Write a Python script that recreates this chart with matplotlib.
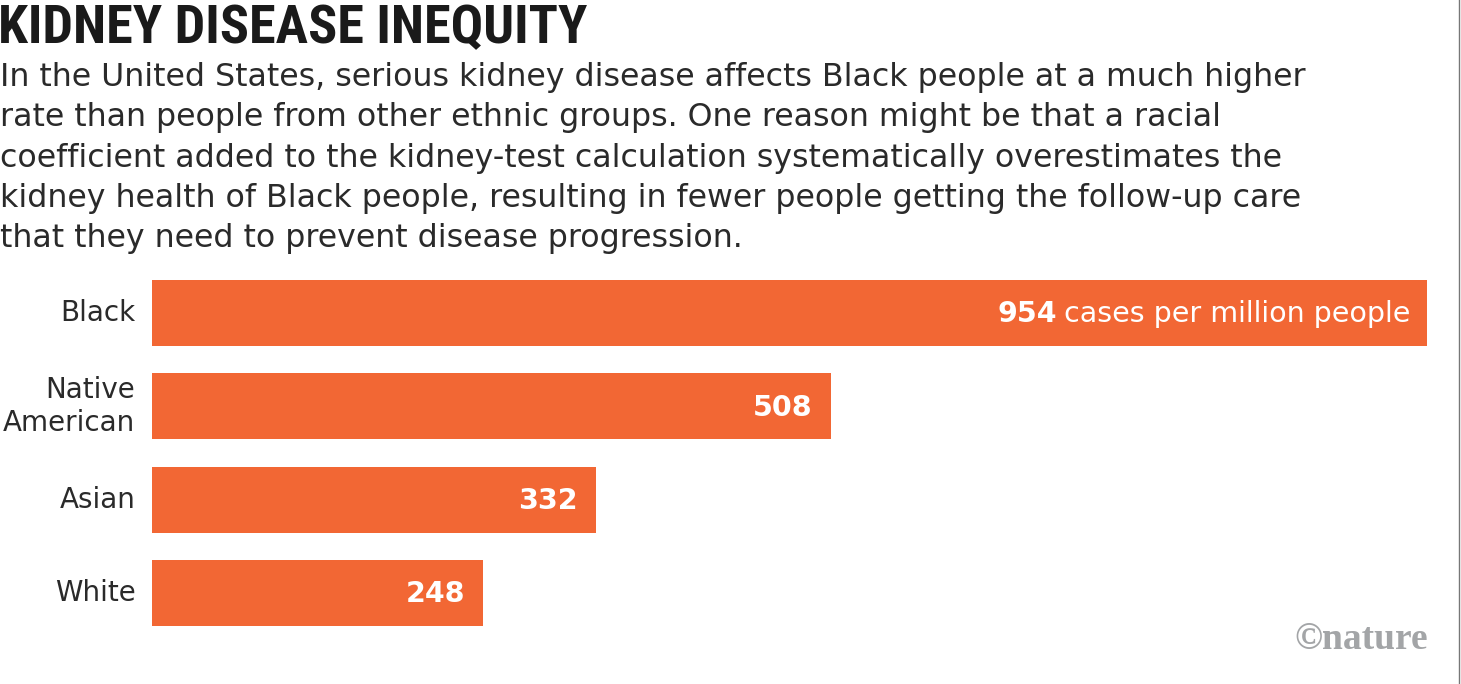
import matplotlib
matplotlib.use("Agg")
import matplotlib.pyplot as plt

groups = ["Black", "Native\nAmerican", "Asian", "White"]
cases = [954, 508, 332, 248]
unit_note = "cases per million people"

title = "KIDNEY DISEASE INEQUITY"
subtitle_lines = [
    "In the United States, serious kidney disease affects Black people at a much higher",
    "rate than people from other ethnic groups. One reason might be that a racial",
    "coefficient added to the kidney-test calculation systematically overestimates the",
    "kidney health of Black people, resulting in fewer people getting the follow-up care",
    "that they need to prevent disease progression.",
]
credit = "\u00a9nature"

W, H = 1461, 684
orange = "#f26734"
body = ["DejaVu Sans"]

fig = plt.figure(figsize=(W / 100, H / 100), dpi=100)
fig.patch.set_facecolor("white")


def px(x, y):
    return x / W, 1 - y / H


# bars: left edge at 152px, 954 ends at 1427px, rows from y=280 to 626
bar_h = 0.71
ax = fig.add_axes([152 / W, 1 - 626 / H, (1427 - 152) / W, (626 - 280) / H])
ypos = list(range(len(groups)))[::-1]
ax.barh(ypos, cases, height=bar_h, color=orange)
ax.set_xlim(0, max(cases))
ax.set_ylim(-bar_h / 2, len(groups) - 1 + bar_h / 2)
ax.axis("off")

fig.canvas.draw()
renderer = fig.canvas.get_renderer()

for y, name, v in zip(ypos, groups, cases):
    ax.annotate(name, xy=(0, y), xytext=(-12, 0), textcoords="offset points",
                ha="right", va="center", fontsize=20, color="#2a2a2a",
                family=body, linespacing=1.25)
    if v == max(cases):
        note = ax.annotate(unit_note, xy=(v, y), xytext=(-12, -1),
                           textcoords="offset points", ha="right", va="center",
                           fontsize=20.5, color="white", family=body)
        bb = note.get_window_extent(renderer)
        x0, _ = ax.transData.inverted().transform((bb.x0, 0))
        ax.annotate(str(v), xy=(x0, y), xytext=(-5, -1), textcoords="offset points",
                    ha="right", va="center", fontsize=20.5, color="white",
                    family=body, weight="bold")
    else:
        ax.annotate(str(v), xy=(v, y), xytext=(-13, -1), textcoords="offset points",
                    ha="right", va="center", fontsize=20.5, color="white",
                    family=body, weight="bold")

fig.text(*px(-2, 43), title, ha="left", va="baseline", fontsize=39,
         weight="heavy", color="#1a1a1a", fontstretch="condensed",
         family=["Roboto Condensed", "Open Sans Condensed",
                 "Liberation Sans Narrow", "Roboto"])

for i, line in enumerate(subtitle_lines):
    fig.text(*px(0, 86 + i * 40.3), line, ha="left", va="baseline",
             fontsize=22.8, color="#2a2a2a", family=body)

fig.text(*px(1428, 649), credit, ha="right", va="baseline", fontsize=27,
         weight="bold", color="#a3a5a7", family=["Liberation Serif", "DejaVu Serif"])

# thin frame edge at the right of the screenshot
fig.add_artist(plt.Line2D([1458.5 / W, 1458.5 / W], [0, 1], color="#777777", lw=1))

fig.savefig("out.png", dpi=100, facecolor="white")
